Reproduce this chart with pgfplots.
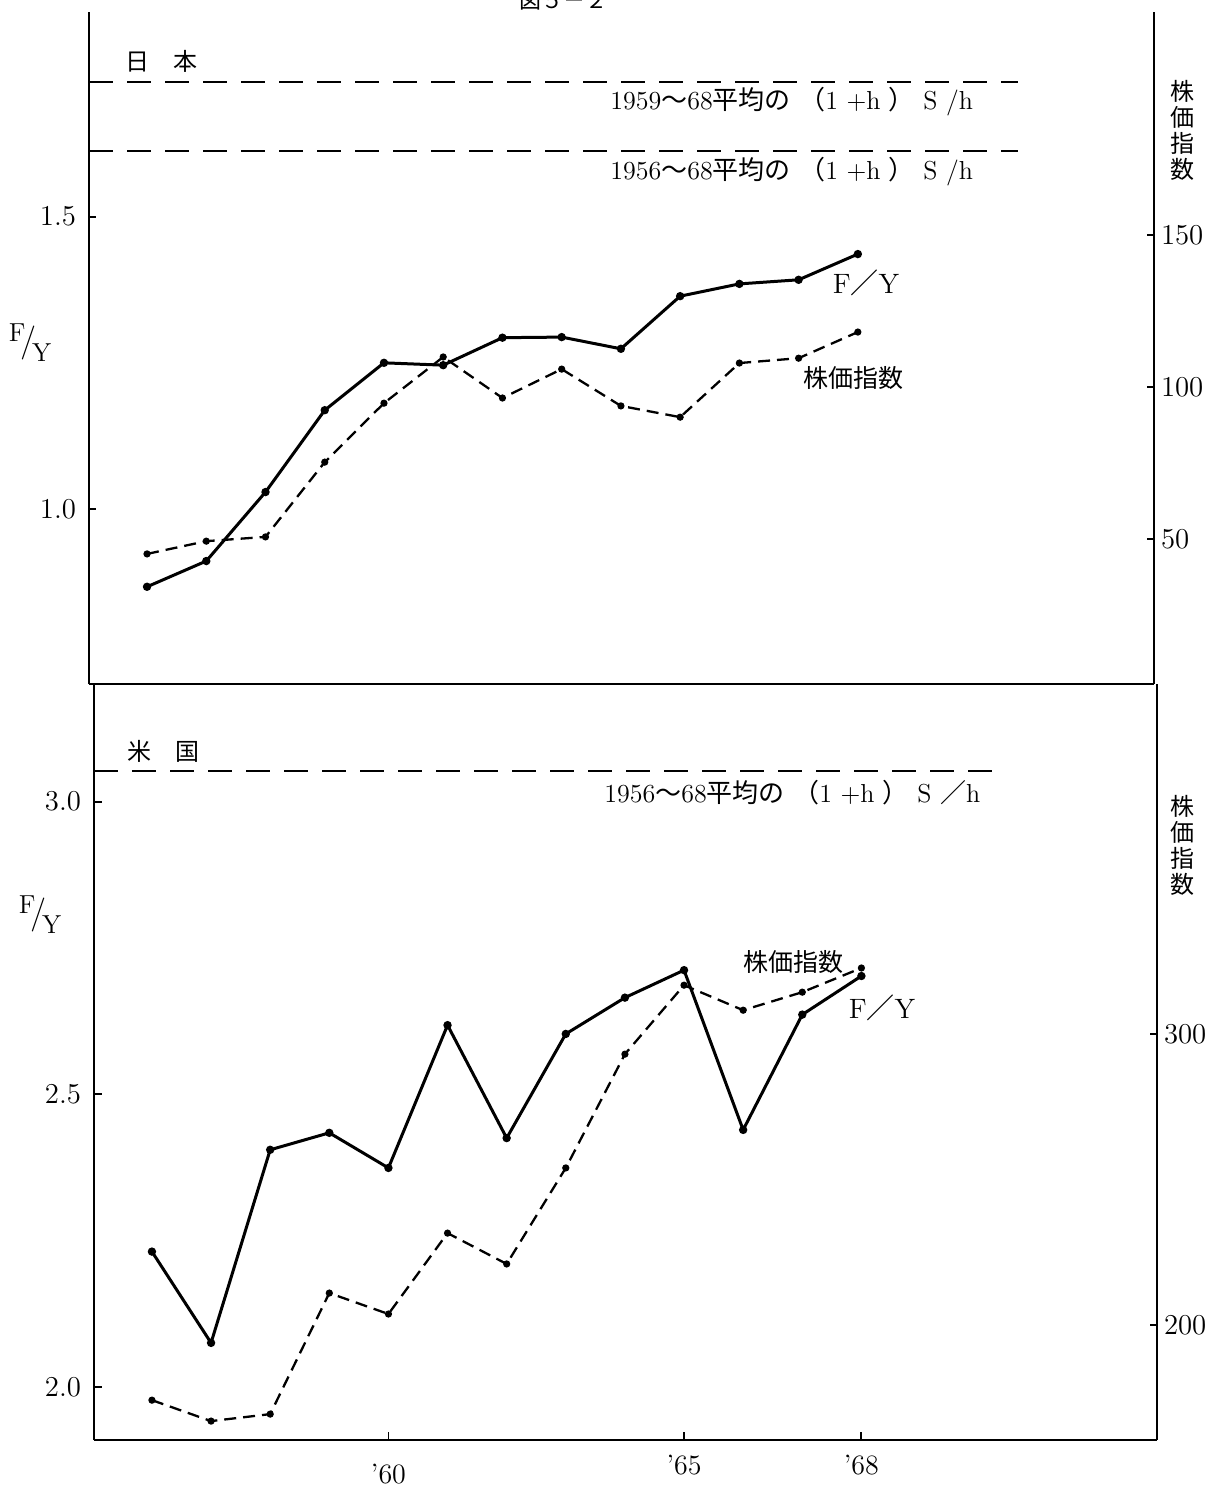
\documentclass[border=0pt]{standalone}
\usepackage{fontspec}
\usepackage{pgfplots}
\pgfplotsset{compat=1.18}
\newfontfamily\cjk{Noto Sans CJK JP}
\newcommand{\tk}{\fontsize{14}{16}\selectfont}
\newcommand{\lb}{\fontsize{13}{15}\selectfont}

\begin{document}
\begin{tikzpicture}
\useasboundingbox (0pt,0pt) rectangle (611.5pt,-744pt);
\pgfplotsset{
 base/.style={scale only axis, anchor=south west, xmin=1955.02, xmax=1973.0,
   axis line style={line width=1pt, black}, tick style={line width=0.9pt, black},
   major tick length=3.5pt, tick label style={font=\tk}, clip=false},
 fy/.style={black, line width=1.5pt, mark=*, mark size=1.3pt, mark options={solid}},
 ix/.style={black, line width=1.15pt, dash pattern=on 6pt off 3.5pt, mark=*, mark size=1.2pt, mark options={solid}},
 ref/.style={black, line width=1.1pt, dash pattern=on 12pt off 7pt},
}
% ---------- top panel (Japan) ----------
\begin{axis}[base, at={(44.5pt,-342pt)}, width=532.5pt, height=336pt,
  ymin=0.7007, ymax=1.850, axis y line*=left, axis x line*=bottom,
  xtick=\empty, ytick={1.0,1.5},
  yticklabel style={xshift=-3pt, /pgf/number format/.cd, fixed, fixed zerofill, precision=1}]
\addplot[ref] coordinates {(1955.02,1.730) (1970.71,1.730)};
\addplot[ref] coordinates {(1955.02,1.612) (1970.71,1.612)};
\addplot[fy] coordinates {(1956,0.867) (1957,0.911) (1958,1.029) (1959,1.169) (1960,1.250) (1961,1.246) (1962,1.293) (1963,1.294) (1964,1.274) (1965,1.364) (1966,1.385) (1967,1.392) (1968,1.436)};
\end{axis}
\begin{axis}[base, at={(44.5pt,-342pt)}, width=532.5pt, height=336pt,
  ymin=2.3, ymax=223.4, axis y line*=right, axis x line=none,
  ytick={50,100,150}, yticklabel style={font=\fontsize{14}{16}\selectfont}]
\addplot[ix] coordinates {(1956,45.1) (1957,49.3) (1958,50.7) (1959,75.3) (1960,94.7) (1961,109.9) (1962,96.4) (1963,105.9) (1964,93.8) (1965,90.1) (1966,107.9) (1967,109.5) (1968,118.1)};
\end{axis}
% ---------- bottom panel (USA) ----------
\begin{axis}[base, at={(47pt,-720pt)}, width=531.5pt, height=378pt,
  ymin=1.909, ymax=3.201, axis y line*=left, axis x line*=bottom,
  xtick={1965,1968}, xticklabels={’65,’68},
  extra x ticks={1960}, extra x tick labels={’60},
  extra x tick style={xticklabel style={yshift=-4.5pt}},
  xticklabel style={yshift=-4pt},
  major tick length=4pt,
  ytick={2.0,2.5,3.0},
  yticklabel style={xshift=-3pt, /pgf/number format/.cd, fixed, fixed zerofill, precision=1}]
\addplot[ref] coordinates {(1955.02,3.052) (1970.34,3.052)};
\addplot[fy] coordinates {(1956,2.231) (1957,2.075) (1958,2.405) (1959,2.434) (1960,2.374) (1961,2.618) (1962,2.425) (1963,2.603) (1964,2.665) (1965,2.712) (1966,2.439) (1967,2.636) (1968,2.702)};
\end{axis}
\begin{axis}[base, at={(47pt,-720pt)}, width=531.5pt, height=378pt,
  ymin=160.5, ymax=420.3, axis y line*=right, axis x line=none,
  ytick={200,300}, yticklabel style={font=\fontsize{14}{16}\selectfont}]
\addplot[ix] coordinates {(1956,174.2) (1957,167.0) (1958,169.4) (1959,211.0) (1960,203.8) (1961,231.6) (1962,221.0) (1963,254.0) (1964,293.1) (1965,316.8) (1966,308.2) (1967,314.4) (1968,322.7)};
\end{axis}
% ---------- texts ----------
\begin{scope}[x=0.5pt, y=-0.5pt]
\node[font=\cjk\fontsize{11}{13}\selectfont] at (563,1) {図５－２};
\node[font=\cjk\fontsize{12}{14}\selectfont] at (161,61) {日\hspace{1em}本};
\node[font=\cjk\fontsize{12}{14}\selectfont] at (163,751) {米\hspace{1em}国};
\node[anchor=west, font=\lb, inner sep=0pt] at (610,102) {1959{\cjk ～}68{\cjk 平均の}\ {\cjk （}1\ +h\ {\cjk ）}\ S\ /h};
\node[anchor=west, font=\lb, inner sep=0pt] at (610,172) {1956{\cjk ～}68{\cjk 平均の}\ {\cjk （}1\ +h\ {\cjk ）}\ S\ /h};
\node[anchor=west, font=\lb, inner sep=0pt] at (604,793) {1956{\cjk ～}68{\cjk 平均の}\ {\cjk （}1\ +h\ {\cjk ）}\ S\ {\cjk ／}h};
\node[font=\cjk\fontsize{12}{13}\selectfont, align=center] at (1182,130) {株\\価\\指\\数};
\node[font=\cjk\fontsize{12}{13}\selectfont, align=center] at (1182,845) {株\\価\\指\\数};
\node[font=\fontsize{14}{16}\selectfont] at (866,283) {F{\cjk ／}Y};
\node[font=\cjk\fontsize{12.5}{14}\selectfont] at (853,378) {株価指数};
\node[font=\cjk\fontsize{12.5}{14}\selectfont] at (793,962) {株価指数};
\node[font=\fontsize{14}{16}\selectfont] at (882,1008) {F{\cjk ／}Y};
\node[font=\fontsize{13}{15}\selectfont] at (30,343) {\raisebox{5pt}{F}\kern-2.5pt{\fontsize{17}{17}\selectfont/}\kern-2pt\raisebox{-5pt}{Y}};
\node[font=\fontsize{13}{15}\selectfont] at (40,915) {\raisebox{5pt}{F}\kern-2.5pt{\fontsize{17}{17}\selectfont/}\kern-2pt\raisebox{-5pt}{Y}};
\end{scope}
\end{tikzpicture}
\end{document}
